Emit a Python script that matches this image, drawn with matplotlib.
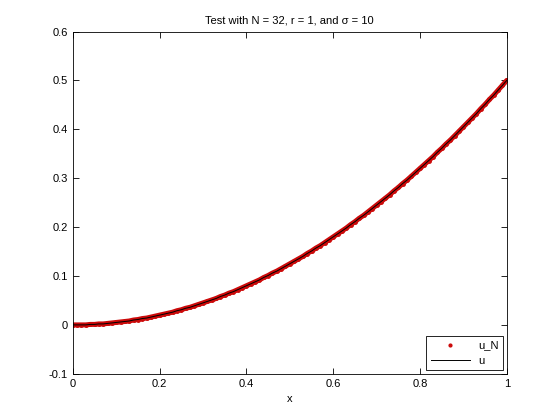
import matplotlib
matplotlib.use("Agg")
import matplotlib.pyplot as plt

plt.rcParams['font.family'] = ['Liberation Sans', 'DejaVu Sans']
plt.rcParams['font.size'] = 8

# sample points
x = [0.00, 0.01, 0.02, 0.03, 0.04, 0.05, 0.06, 0.07, 0.08, 0.09,
     0.10, 0.11, 0.12, 0.13, 0.14, 0.15, 0.16, 0.17, 0.18, 0.19,
     0.20, 0.21, 0.22, 0.23, 0.24, 0.25, 0.26, 0.27, 0.28, 0.29,
     0.30, 0.31, 0.32, 0.33, 0.34, 0.35, 0.36, 0.37, 0.38, 0.39,
     0.40, 0.41, 0.42, 0.43, 0.44, 0.45, 0.46, 0.47, 0.48, 0.49,
     0.50, 0.51, 0.52, 0.53, 0.54, 0.55, 0.56, 0.57, 0.58, 0.59,
     0.60, 0.61, 0.62, 0.63, 0.64, 0.65, 0.66, 0.67, 0.68, 0.69,
     0.70, 0.71, 0.72, 0.73, 0.74, 0.75, 0.76, 0.77, 0.78, 0.79,
     0.80, 0.81, 0.82, 0.83, 0.84, 0.85, 0.86, 0.87, 0.88, 0.89,
     0.90, 0.91, 0.92, 0.93, 0.94, 0.95, 0.96, 0.97, 0.98, 0.99, 1.00]
u_N = [0.000, 0.000, 0.000, 0.000, 0.001, 0.001, 0.002, 0.002, 0.003, 0.004,
       0.005, 0.006, 0.007, 0.008, 0.010, 0.011, 0.013, 0.014, 0.016, 0.018,
       0.020, 0.022, 0.024, 0.026, 0.029, 0.031, 0.034, 0.036, 0.039, 0.042,
       0.045, 0.048, 0.051, 0.054, 0.058, 0.061, 0.065, 0.068, 0.072, 0.076,
       0.080, 0.084, 0.088, 0.092, 0.097, 0.101, 0.106, 0.110, 0.115, 0.120,
       0.125, 0.130, 0.135, 0.140, 0.146, 0.151, 0.157, 0.162, 0.168, 0.174,
       0.180, 0.186, 0.192, 0.198, 0.205, 0.211, 0.218, 0.224, 0.231, 0.238,
       0.245, 0.252, 0.259, 0.266, 0.274, 0.281, 0.289, 0.296, 0.304, 0.312,
       0.320, 0.328, 0.336, 0.344, 0.353, 0.361, 0.370, 0.378, 0.387, 0.396,
       0.405, 0.414, 0.423, 0.432, 0.442, 0.451, 0.461, 0.470, 0.480, 0.490, 0.500]
u = u_N

xticks = [0, 0.2, 0.4, 0.6, 0.8, 1]
yticks = [-0.1, 0, 0.1, 0.2, 0.3, 0.4, 0.5, 0.6]

fig = plt.figure(figsize=(5.6, 4.2), dpi=100)
ax = fig.add_axes([0.13, 0.11, 0.775, 0.815])

red = '#cc0a0a'
# dense dots merge into a band, so fill the gaps between them
ax.plot(x, u_N, '-', color=red, linewidth=3.6, solid_capstyle='round')
ax.plot(x, u_N, '.', color=red, markersize=5, label='u_N')
ax.plot(x, u, '-', color='black', linewidth=0.7, label='u')

ax.set_xlim(0, 1)
ax.set_ylim(-0.1, 0.6)
ax.set_xticks(xticks)
ax.set_xticklabels(['0', '0.2', '0.4', '0.6', '0.8', '1'])
ax.set_yticks(yticks)
ax.set_yticklabels(['-0.1', '0', '0.1', '0.2', '0.3', '0.4', '0.5', '0.6'])
ax.tick_params(direction='in', top=True, right=True, length=4, width=0.6)
for s in ax.spines.values():
    s.set_linewidth(0.6)

ax.set_xlabel('x')
ax.set_title('Test with N = 32, r = 1, and σ = 10', fontsize=8)

leg = ax.legend(loc='lower right', fancybox=False, edgecolor='black',
                framealpha=1, borderaxespad=0.3, handlelength=3.5, markerscale=0.8)
leg.get_frame().set_linewidth(0.6)

fig.savefig('out.png', dpi=100)
